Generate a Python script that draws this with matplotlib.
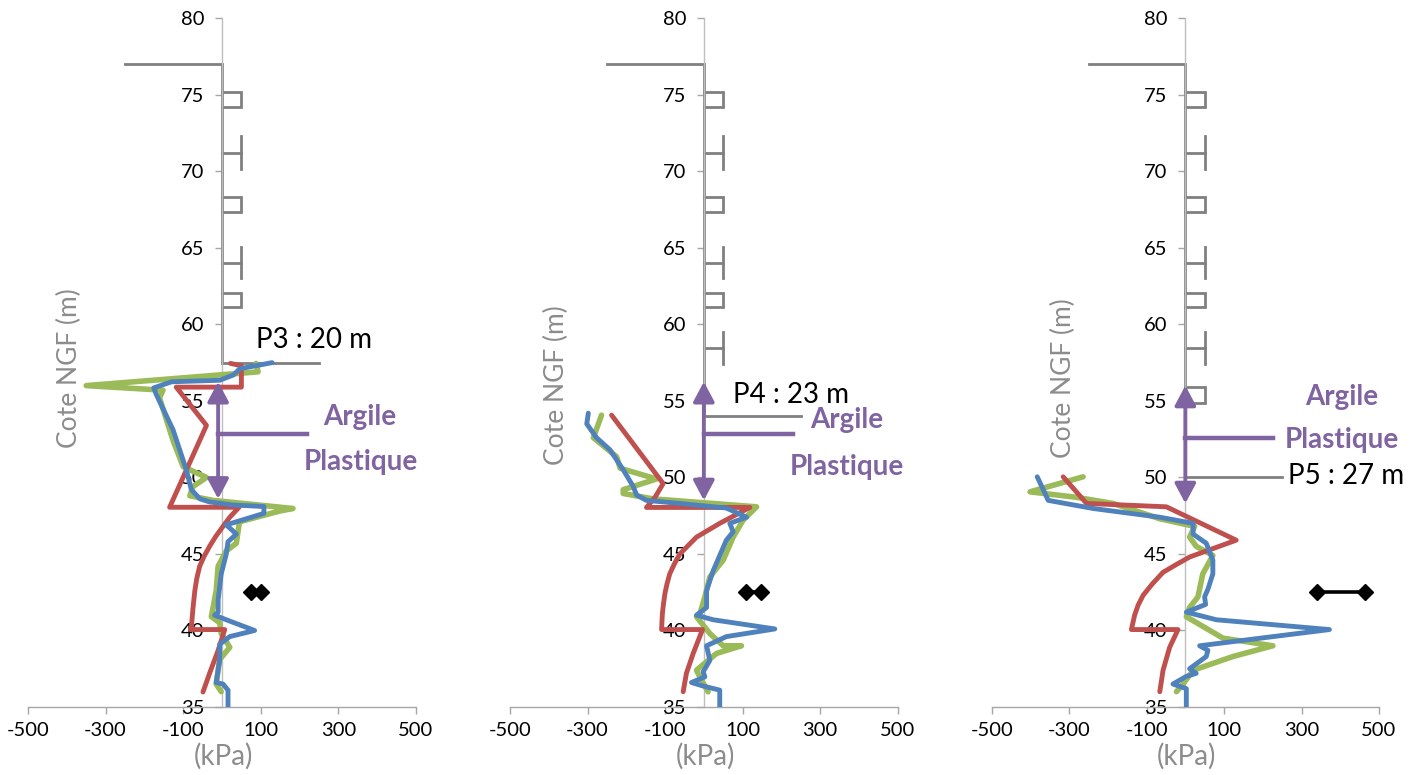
import matplotlib
matplotlib.use('Agg')
import matplotlib.pyplot as plt

plt.rcParams['font.family'] = ['Lato', 'DejaVu Sans']
plt.rcParams['axes.unicode_minus'] = False

# ---------------- data ----------------
x_ticks = [-500, -300, -100, 100, 300, 500]
y_ticks = [35, 40, 45, 50, 55, 60, 65, 70, 75, 80]
pile_labels = ["P3 : 20 m", "P4 : 23 m", "P5 : 27 m"]

# Panel 1 (P3)
p1_green_x = [88, 93, -350, -152, -161, -126, -100, -40, -75, -83, -23, 183, 148, 45, 37, 11, -10, -15, -27.5, -6, -2, 20, -6, -15, -2]
p1_green_y = [57.45, 56.9, 56.0, 55.7, 55.2, 52.4, 50.7, 50.0, 49.4, 48.8, 48.5, 47.97, 47.8, 47.1, 45.7, 45.2, 44.2, 42.6, 40.9, 40.5, 39.8, 38.9, 38.1, 36.5, 36.0]
p1_red_x = [22, 50, 50, -118, -40, -135, 44, 20, 2.6, -16, -32, -46, -57.5, -65, -70, -75, -79, -81.5, 7, -10, -32, -49]
p1_red_y = [57.45, 57.3, 55.9, 55.9, 53.4, 48.05, 48.05, 47.4, 46.8, 46.15, 45.5, 44.85, 44.2, 43.4, 42.6, 41.4, 40.2, 40.06, 40.06, 38.7, 37.2, 35.98]
p1_blue_x = [129, 45.5, 30, -6, -130, -176, -169, -126, -92, -79, -57, -32, 28, 108, 108, 11, 37, 15.5, 11, -2, -10, -10, -19, 11, 84, 20, -6, -6, -15, 2.6, 15.5, 15.5]
p1_blue_y = [57.5, 57.1, 56.7, 56.35, 56.25, 55.85, 55.4, 53.1, 50.5, 49.2, 48.6, 48.4, 48.2, 48.1, 47.65, 46.9, 46.3, 45.8, 45.0, 43.7, 42.0, 41.2, 41.0, 40.7, 40.0, 39.6, 39.1, 38.1, 36.6, 36.5, 36.1, 35.0]

# Panel 2 (P4)
p2_green_x = [-264, -272, -285, -225, -216, -122, -208, -208, -131, 136, 101, 75.6, 50, 15.5, 2.6, -10, -19, 15.5, 50, 97, 32.7, -10, -19, -6, 11]
p2_green_y = [54.07, 53.5, 52.6, 51.35, 50.6, 49.9, 49.2, 48.95, 48.6, 48.08, 47.2, 46.1, 44.6, 43.5, 42.2, 41.1, 40.9, 39.8, 39.0, 39.0, 38.5, 37.6, 37.4, 36.75, 35.99]
p2_red_x = [-238, -105, -126, -148, 118.6, 41, -19, -62, -76, -88, -95, -100.5, -104, -107, -109, -3.4, -27.5, -45, -53.3]
p2_red_y = [54.07, 49.6, 48.7, 48.04, 48.04, 47.0, 46.1, 45.0, 44.35, 43.7, 43.05, 42.4, 41.75, 41.1, 40.06, 40.06, 38.5, 37.2, 36.0]
p2_blue_x = [-298, -302, -277, -242, -208, -182, -173.5, -148, -62, 58, 110, 67, 75.6, 58, 24, 7, 7, -19, 24, 183, 58, 7, 15.5, -1.7, 2.6, -32, -6, 41, 41]
p2_blue_y = [54.2, 53.5, 52.6, 51.8, 50.5, 49.4, 48.85, 48.5, 48.3, 48.0, 47.4, 47.0, 46.45, 45.9, 43.9, 42.6, 41.5, 41.0, 40.7, 40.1, 39.6, 39.0, 38.05, 37.3, 36.97, 36.6, 36.4, 36.1, 35.0]

# Panel 3 (P5)
p3_green_x = [-264, -401, -281, -186.5, -66, 24, 11, 28, 71, 45, 32.6, 11, 2.5, 97, 226, 123, 20, -6, -23]
p3_green_y = [50.04, 49.06, 48.7, 48.3, 47.3, 46.8, 46.1, 45.5, 44.9, 43.7, 42.2, 41.5, 40.9, 39.5, 39.0, 38.3, 37.4, 36.5, 36.0]
p3_red_x = [-315.4, -255, -49, 131.4, 11, -24, -57.6, -85, -109, -122, -131, -139.3, -19, -40.5, -57.6, -66]
p3_red_y = [50.04, 48.3, 48.08, 45.9, 44.8, 44.3, 43.8, 43.05, 42.3, 41.65, 41.0, 40.06, 40.06, 38.9, 37.4, 36.0]
p3_blue_x = [-382.4, -354, -238, -66, 20, 20, 54, 71, 71, 58.3, 49.7, 52.3, 2.5, 80, 372, 36.8, 58.3, 54, 11, 28, 2.5, -32, 2.5, 2.5]
p3_blue_y = [50.04, 48.5, 47.97, 47.4, 47.0, 46.3, 45.7, 44.6, 43.7, 42.7, 42.2, 41.7, 41.2, 40.7, 40.06, 39.0, 38.7, 38.3, 37.5, 37.2, 37.0, 36.5, 36.2, 35.0]

# Black markers (measured values)
mark_x = [[75, 100], [110, 148], [339, 464]]
mark_y = [42.5, 42.5]

# Retaining structure (gray)
wall_top = 77.0
cap_left = -250
wall_base = [57.45, 54.0, 50.0]
base_len = 250
strut_len = 50
box_top = [[75.19, 68.30, 62.07], [75.19, 68.30, 62.07], [75.19, 68.30, 62.07, 55.88]]
box_bot = [[74.21, 67.32, 61.11], [74.21, 67.32, 61.11], [74.21, 67.32, 61.11, 54.87]]
t_level = [[71.2, 64.0], [71.2, 64.0, 58.43], [71.2, 64.0, 58.43]]
t_low = [[70.15, 63.0], [70.15, 63.0, 57.4], [70.15, 63.0, 57.4]]
t_high = [[72.3, 65.07], [72.3, 65.07, 59.5], [72.3, 65.07, 59.5]]

# Clay layer (purple)
arrow_x = [-10, 0, 0]
arrow_top = [56.25, 56.25, 56.0]
arrow_bot = [48.6, 48.5, 48.3]
clay_y = [52.87, 52.87, 52.55]
clay_len = [218, 230, 227]
argile_pos = [(355, 53.42), (368, 53.2), (404, 54.73)]
plast_pos = [(357, 50.48), (368, 50.15), (405, 51.9)]
pile_pos = [(88, 58.45), (75, 54.88), (264, 49.6)]
ylabel_pos = [(-392, 57.14), (-379, 56.03), (-314, 56.5)]

greens = [(p1_green_x, p1_green_y), (p2_green_x, p2_green_y), (p3_green_x, p3_green_y)]
reds = [(p1_red_x, p1_red_y), (p2_red_x, p2_red_y), (p3_red_x, p3_red_y)]
blues = [(p1_blue_x, p1_blue_y), (p2_blue_x, p2_blue_y), (p3_blue_x, p3_blue_y)]

# ---------------- styles ----------------
C_GREEN = '#9BBB59'
C_RED = '#C0504D'
C_BLUE = '#4F81BD'
C_PURPLE = '#8064A2'
C_STRUCT = '#808080'
C_GRAYTXT = '#8C8C8C'

W, H = 1424, 775
fig = plt.figure(figsize=(W / 100, H / 100), dpi=100)

lefts = [28, 510, 991.7]
rights = [416, 897.7, 1379]
top_px, bot_px = 18.3, 707

for i in range(3):
    ax = fig.add_axes([lefts[i] / W, 1 - bot_px / H, (rights[i] - lefts[i]) / W, (bot_px - top_px) / H])
    ax.set_xlim(-500, 500)
    ax.set_ylim(35, 80)
    ax.patch.set_alpha(0)
    for s in ['top', 'right']:
        ax.spines[s].set_visible(False)
    ax.spines['left'].set_position(('data', 0))
    ax.spines['left'].set_color('#BFBFBF')
    ax.spines['left'].set_linewidth(1.0)
    ax.spines['bottom'].set_color('#A6A6A6')
    ax.spines['bottom'].set_linewidth(1.0)
    ax.set_xticks(x_ticks)
    ax.set_yticks(y_ticks)
    ax.set_xticklabels([str(v) for v in x_ticks])
    ax.set_yticklabels([str(v) for v in y_ticks])
    ax.tick_params(axis='both', direction='out', length=4.8, width=1, color='#A6A6A6',
                   labelsize=14.5, labelcolor='black')
    ax.tick_params(axis='y', pad=8)
    ax.tick_params(axis='x', pad=6)

    # gray structure
    ax.plot([cap_left, 0, 0], [wall_top, wall_top, wall_base[i]], color=C_STRUCT, lw=2.0, solid_joinstyle='miter')
    for bt, bb in zip(box_top[i], box_bot[i]):
        ax.plot([0, strut_len, strut_len, 0], [bt, bt, bb, bb], color=C_STRUCT, lw=2.0, solid_joinstyle='miter')
    for tl, lo, hi in zip(t_level[i], t_low[i], t_high[i]):
        ax.plot([0, strut_len], [tl, tl], color=C_STRUCT, lw=2.0)
        ax.plot([strut_len, strut_len], [lo, hi], color=C_STRUCT, lw=2.0)
    ax.plot([0, base_len], [wall_base[i], wall_base[i]], color=C_STRUCT, lw=2.0)

    # series
    gx, gy = greens[i]
    rx, ry = reds[i]
    bx, by = blues[i]
    ax.plot(gx, gy, color=C_GREEN, lw=4.0, solid_joinstyle='round', solid_capstyle='round', zorder=3)
    ax.plot(rx, ry, color=C_RED, lw=3.5, solid_joinstyle='round', solid_capstyle='round', zorder=4)
    ax.plot(bx, by, color=C_BLUE, lw=3.5, solid_joinstyle='round', solid_capstyle='round', zorder=5)
    ax.plot(mark_x[i], mark_y, color='black', lw=2.6, marker='D', markersize=8.5, zorder=6)

    # clay layer annotation
    ax.annotate('', xy=(arrow_x[i], arrow_top[i]), xytext=(arrow_x[i], arrow_bot[i]),
                arrowprops=dict(arrowstyle='<|-|>,head_length=0.6,head_width=0.32', mutation_scale=20,
                                color=C_PURPLE, lw=2.8, shrinkA=0, shrinkB=0), zorder=7)
    ax.plot([arrow_x[i], clay_len[i]], [clay_y[i], clay_y[i]], color=C_PURPLE, lw=3.2, zorder=7)
    ax.text(argile_pos[i][0], argile_pos[i][1], 'Argile', color=C_PURPLE, fontsize=20, fontweight='bold',
            ha='center', va='baseline')
    ax.text(plast_pos[i][0], plast_pos[i][1], 'Plastique', color=C_PURPLE, fontsize=20, fontweight='bold',
            ha='center', va='baseline')
    ax.text(pile_pos[i][0], pile_pos[i][1], pile_labels[i], color='black', fontsize=20,
            ha='left', va='baseline', clip_on=False)

    # axis titles
    ax.text(ylabel_pos[i][0], ylabel_pos[i][1], 'Cote NGF (m)', color=C_GRAYTXT, fontsize=19,
            rotation=90, ha='center', va='center', clip_on=False)
    ax.text(4, 31.8, '(kPa)', color=C_GRAYTXT, fontsize=20, ha='center', va='center', clip_on=False)

fig.savefig('out.png', dpi=100)
